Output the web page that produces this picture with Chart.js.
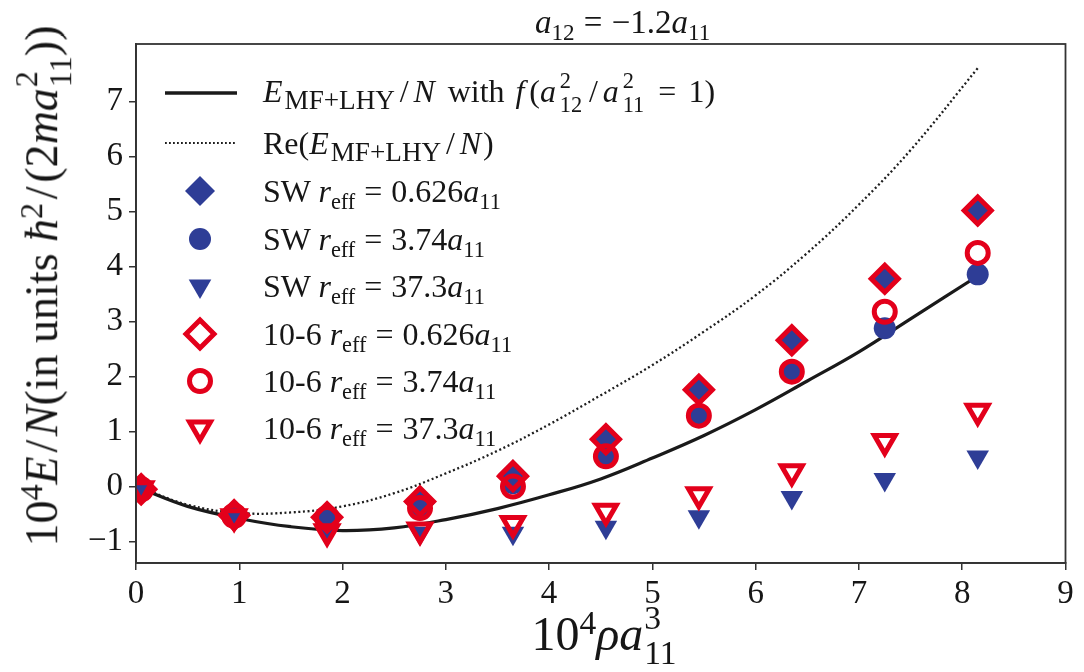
<!DOCTYPE html>
<html><head><meta charset="utf-8">
<script src="https://cdn.jsdelivr.net/npm/chart.js@4.4.1/dist/chart.umd.min.js"></script>
<style>
html,body{margin:0;padding:0;background:#fff;}
#wrap{position:relative;width:1084px;height:672px;font-family:"Liberation Serif","DejaVu Serif",serif;color:#161616;overflow:hidden;}
#c{position:absolute;left:0;top:0;}
.m{position:absolute;white-space:nowrap;line-height:1;}
i{font-style:italic;}
sub{font-size:0.7em;vertical-align:-0.32em;line-height:0;}
sub.big{font-size:0.85em;vertical-align:-0.26em;}
sup{font-size:0.7em;vertical-align:0.48em;line-height:0;}
.ss{display:inline-flex;flex-direction:column;font-size:0.7em;line-height:1.05;vertical-align:0.62em;margin-left:1px;}
.sl{margin:0 0.08em;}
.eq{margin:0 0.28em;}
.r1 .sl,.r2 .sl{margin:0 0.15em;}
.r1 i,.r2 i{margin-right:0.06em;}
.r1 i.f{margin-right:0.15em;}
.r1 .ss{margin:0 2px;}
.r1 .eq{margin:0 0.38em;}
.r1{word-spacing:3px;}
.row{position:absolute;left:160px;height:40px;display:flex;align-items:center;}
.row svg{width:80px;height:40px;flex:none;}
.row .t{position:absolute;left:103px;font-size:32px;white-space:nowrap;line-height:1;}
</style>
</head>
<body>
<div id="wrap">
<canvas id="c" width="1084" height="672"></canvas>
<div class="m" style="left:535px;top:6px;font-size:33px;"><i>a</i><sub>12</sub><span class="eq">=</span>−1.2<i>a</i><sub>11</sub></div>
<div class="m" id="ytitle" style="left:44px;top:286px;font-size:46px;transform:translate(-50%,-50%) rotate(-90deg);">10<sup>4</sup><i>E</i><span class="sl">/</span><i>N</i>(in units <i>ħ</i><sup>2</sup><span class="sl">/</span>(2<i>ma</i><span class="ss"><span>2</span><span>11</span></span>))</div>
<div class="m" id="xtitle" style="left:604px;top:600px;font-size:48px;transform:translateX(-50%);">10<sup>4</sup><i>ρa</i><span class="ss"><span>3</span><span>11</span></span></div>
<div id="legend"></div>
</div>
<script>
// ---- data ----
const xTicks = [0,1,2,3,4,5,6,7,8,9];
const yTicks = [-1,0,1,2,3,4,5,6,7];
const densities = [0.05,0.95,1.85,2.75,3.65,4.55,5.45,6.35,7.25,8.15];
const swR0626   = [-0.03,-0.52,-0.55,-0.30, 0.22, 0.88, 1.76, 2.65, 3.77, 5.01];
const swR374    = [-0.04,-0.53,-0.56,-0.36, 0.06, 0.55, 1.27, 2.07, 2.88, 3.86];
const swR373    = [-0.02,-0.55,-0.85,-0.85,-0.85,-0.74,-0.55,-0.20, 0.13, 0.54];
const lj106R0626= [-0.05,-0.52,-0.56,-0.27, 0.19, 0.86, 1.76, 2.66, 3.78, 5.02];
const lj106R374 = [-0.05,-0.53,-0.57,-0.39, 0.00, 0.55, 1.29, 2.09, 3.18, 4.25];
const lj106R373 = [-0.04,-0.55,-0.82,-0.79,-0.67,-0.45,-0.15, 0.27, 0.82, 1.37];
const curveX    = [0.05,0.5,1,1.5,2,2.5,3,3.5,4,4.5,5,5.5,6,6.5,7,7.5,8.15];
const eMfLhy    = [-0.04,-0.36,-0.58,-0.73,-0.80,-0.75,-0.60,-0.40,-0.15,0.14,0.52,0.93,1.40,1.92,2.45,3.05,3.83];
const reEMfLhy  = [-0.02,-0.33,-0.48,-0.47,-0.36,-0.12,0.24,0.65,1.13,1.66,2.21,2.82,3.48,4.25,5.13,6.12,7.61];

const BLUE = '#2e3d96', RED = '#e3001b';
const pts = (xs, ys) => xs.map((x, i) => ({x, y: ys[i]}));

const EQ = '<span class="eq">=</span>';
const SL = '<span class="sl">/</span>';
const EMF = '<i>E</i><sub class="big">MF+LHY</sub>' + SL + '<i>N</i>';
const legendRows = [
  {cy:93, cls:'r1', svg:'<line x1="5" y1="20" x2="77" y2="20" stroke="#1a1a1a" stroke-width="3.5"/>',
   html: EMF + ' with <i class="f">f</i>(<i>a</i><span class="ss"><span>2</span><span>12</span></span>' + SL + '<i>a</i><span class="ss"><span>2</span><span>11</span></span>' + EQ + '1)'},
  {cy:143, cls:'r2', svg:'<line x1="5" y1="20" x2="77" y2="20" stroke="#1e1e1e" stroke-width="2.2" stroke-dasharray="1.8 2.2"/>',
   html:'Re(' + EMF + ')'},
  {cy:191, cls:'', svg:'<polygon points="40,5 55,20 40,35 25,20" fill="'+BLUE+'"/>',
   html:'SW <i>r</i><sub>eff</sub>' + EQ + '0.626<i>a</i><sub>11</sub>'},
  {cy:239, cls:'', svg:'<circle cx="40" cy="20" r="11" fill="'+BLUE+'"/>',
   html:'SW <i>r</i><sub>eff</sub>' + EQ + '3.74<i>a</i><sub>11</sub>'},
  {cy:286, cls:'', svg:'<polygon points="40,33 28.7,13.5 51.3,13.5" fill="'+BLUE+'"/>',
   html:'SW <i>r</i><sub>eff</sub>' + EQ + '37.3<i>a</i><sub>11</sub>'},
  {cy:334, cls:'', svg:'<polygon points="40,6 54,20 40,34 26,20" fill="none" stroke="'+RED+'" stroke-width="5"/>',
   html:'10-6 <i>r</i><sub>eff</sub>' + EQ + '0.626<i>a</i><sub>11</sub>'},
  {cy:381, cls:'', svg:'<circle cx="40" cy="20" r="10.5" fill="none" stroke="'+RED+'" stroke-width="5"/>',
   html:'10-6 <i>r</i><sub>eff</sub>' + EQ + '3.74<i>a</i><sub>11</sub>'},
  {cy:428, cls:'', svg:'<polygon points="40,32 29.6,14 50.4,14" fill="none" stroke="'+RED+'" stroke-width="5"/>',
   html:'10-6 <i>r</i><sub>eff</sub>' + EQ + '37.3<i>a</i><sub>11</sub>'}
];
const lg = document.getElementById('legend');
legendRows.forEach(r => {
  const d = document.createElement('div');
  d.className = 'row';
  d.style.top = (r.cy - 20) + 'px';
  d.innerHTML = '<svg viewBox="0 0 80 40">' + r.svg + '</svg><div class="t ' + r.cls + '">' + r.html + '</div>';
  lg.appendChild(d);
});

const frame = {
  id: 'frame',
  afterDatasetsDraw(chart) {
    const {ctx, chartArea: a} = chart;
    ctx.save();
    ctx.strokeStyle = '#333';
    ctx.lineWidth = 1.8;
    ctx.strokeRect(a.left, a.top, a.right - a.left, a.bottom - a.top);
    ctx.restore();
  }
};

const marker = (label, ys, style, opts, order) => Object.assign({
  type: 'scatter', label, data: pts(densities, ys), pointStyle: style,
  showLine: false, clip: 0, order
}, opts);

const tickFont = {family: '"Liberation Serif", "DejaVu Serif", serif', size: 33};
const minus = v => String(v).replace('-', '\u2212');

new Chart(document.getElementById('c'), {
  type: 'scatter',
  data: {
    datasets: [
      marker('10-6 37.3', lj106R373, 'triangle', {pointRadius: 12, pointRotation: 180, pointBorderWidth: 5, pointBorderColor: RED, pointBackgroundColor: 'rgba(0,0,0,0)'}, 0),
      marker('10-6 3.74', lj106R374, 'circle', {pointRadius: 10.5, pointBorderWidth: 5, pointBorderColor: RED, pointBackgroundColor: 'rgba(0,0,0,0)'}, 1),
      marker('10-6 0.626', lj106R0626, 'rectRot', {pointRadius: 13.5, pointBorderWidth: 5, pointBorderColor: RED, pointBackgroundColor: 'rgba(0,0,0,0)'}, 2),
      marker('SW 37.3', swR373, 'triangle', {pointRadius: 13, pointRotation: 180, pointBorderWidth: 0, pointBackgroundColor: BLUE}, 3),
      marker('SW 3.74', swR374, 'circle', {pointRadius: 11, pointBorderWidth: 0, pointBackgroundColor: BLUE}, 4),
      marker('SW 0.626', swR0626, 'rectRot', {pointRadius: 15, pointBorderWidth: 0, pointBackgroundColor: BLUE}, 5),
      {type: 'line', label: 'Re', data: pts(curveX, reEMfLhy), showLine: true, pointRadius: 0,
       borderColor: '#1e1e1e', borderWidth: 2.3, borderDash: [2, 2.6], tension: 0.4, fill: false, order: 6},
      {type: 'line', label: 'E', data: pts(curveX, eMfLhy), showLine: true, pointRadius: 0,
       borderColor: '#1a1a1a', borderWidth: 3.2, tension: 0.4, fill: false, order: 7}
    ]
  },
  options: {
    responsive: false,
    animation: false,
    events: [],
    layout: {padding: {top: 44, right: 13, left: 0, bottom: 0}},
    plugins: {legend: {display: false}, tooltip: {enabled: false}, title: {display: false}},
    scales: {
      x: {
        type: 'linear', min: 0, max: 9, position: 'bottom',
        afterBuildTicks: s => { s.ticks = xTicks.map(v => ({value: v})); },
        afterFit: s => { s.height = 109; },
        ticks: {font: tickFont, color: '#161616', padding: 5, maxRotation: 0, callback: minus},
        grid: {drawOnChartArea: false, drawTicks: true, tickLength: 7, color: '#333', lineWidth: 1.5},
        border: {display: true, color: '#333', width: 1.8}
      },
      y: {
        type: 'linear', min: -1.39, max: 8.05,
        afterBuildTicks: s => { s.ticks = yTicks.map(v => ({value: v})); },
        afterFit: s => { s.width = 136; },
        ticks: {font: tickFont, color: '#161616', padding: 6, callback: minus},
        grid: {drawOnChartArea: false, drawTicks: true, tickLength: 7, color: '#333', lineWidth: 1.5},
        border: {display: true, color: '#333', width: 1.8}
      }
    }
  },
  plugins: [frame]
});
</script>
</body></html>
